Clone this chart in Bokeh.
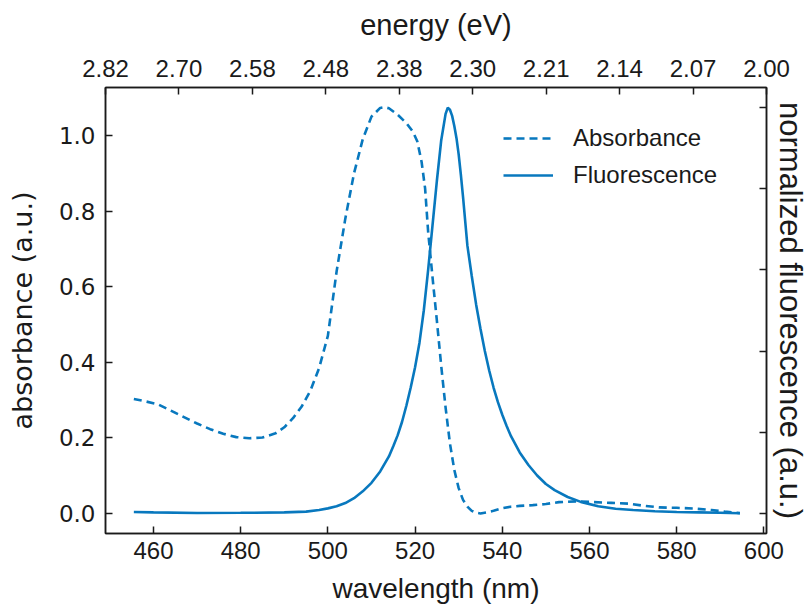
from bokeh.plotting import figure
from bokeh.models import (Range1d, LinearAxis, FixedTicker, Legend, LegendItem,
                          CustomJSTickFormatter, ColumnDataSource)
from bokeh.embed import file_html
from bokeh.resources import INLINE

# ---------------- data ----------------
abs_wavelength = [455.5, 458, 461, 464, 467, 470, 473, 476, 479, 482, 485, 488, 490, 492,
                  494, 496, 498, 500, 502, 504, 506, 508, 510, 512, 513, 514, 516, 518,
                  519.5, 520.5, 521.5, 522.3, 523, 524, 525, 526, 527, 528, 529, 530, 531,
                  532, 533, 534, 535, 536.5, 538, 540, 542, 544, 547, 550, 553, 557, 561,
                  565, 569, 572, 576, 580, 584, 588, 591, 594.5]
absorbance = [0.303, 0.297, 0.289, 0.272, 0.255, 0.238, 0.223, 0.211, 0.202, 0.199, 0.201,
              0.212, 0.228, 0.252, 0.283, 0.325, 0.385, 0.47, 0.64, 0.78, 0.90, 0.99, 1.05,
              1.073, 1.075, 1.072, 1.055, 1.033, 1.01, 0.985, 0.93, 0.86, 0.745, 0.625,
              0.51, 0.39, 0.28, 0.185, 0.115, 0.067, 0.036, 0.018, 0.007, 0.002, 0.0, 0.003,
              0.007, 0.014, 0.018, 0.02, 0.022, 0.025, 0.03, 0.032, 0.03, 0.028, 0.026,
              0.021, 0.016, 0.015, 0.013, 0.009, 0.005, 0.001]

fl_wavelength = [455.5, 460, 470, 480, 490, 495, 498, 500, 502, 504, 506, 508, 510, 512,
                 514, 515, 516, 517, 518, 519, 520, 521, 522, 523, 524, 525, 526, 527,
                 527.5, 528, 528.5, 529, 529.5, 530, 530.5, 531, 532, 533, 534, 535, 536,
                 537, 538, 539, 540, 541, 542, 544, 546, 548, 550, 552, 555, 558, 562, 566,
                 570, 575, 580, 585, 590, 594.5]
fluorescence = [0.003, 0.002, 0.0005, 0.001, 0.002, 0.004, 0.008, 0.012, 0.017, 0.025,
                0.037, 0.054, 0.075, 0.103, 0.140, 0.165, 0.192, 0.225, 0.265, 0.31, 0.36,
                0.42, 0.50, 0.60, 0.71, 0.82, 0.92, 0.985, 1.0, 0.995, 0.98, 0.955, 0.925,
                0.885, 0.835, 0.78, 0.66, 0.585, 0.515, 0.455, 0.40, 0.352, 0.31, 0.274,
                0.243, 0.215, 0.19, 0.15, 0.119, 0.093, 0.072, 0.057, 0.040, 0.028, 0.017,
                0.011, 0.008, 0.005, 0.003, 0.002, 0.001, 0.0]

wl_ticks = [460, 480, 500, 520, 540, 560, 580, 600]
abs_ticks = [0.0, 0.2, 0.4, 0.6, 0.8, 1.0]
fl_ticks = [0.0, 0.2, 0.4, 0.6, 0.8, 1.0]
energy_labels = ["2.82", "2.70", "2.58", "2.48", "2.38", "2.30", "2.21", "2.14", "2.07", "2.00"]

# ---------------- styling ----------------
BLUE = "#0878be"
INK = "#1a1a1a"
SANS = "Liberation Sans"

p = figure(width=810, height=610,
           x_range=Range1d(449.0, 600.6), y_range=Range1d(-0.053, 1.127),
           output_backend="svg", toolbar_location=None,
           min_border_left=105, min_border_right=41, min_border_top=87, min_border_bottom=77)
p.extra_x_ranges = {"top": Range1d(0, len(energy_labels) - 1)}
p.extra_y_ranges = {"right": Range1d(-0.05, 1.05)}

p.background_fill_color = "white"
p.border_fill_color = "white"
p.outline_line_color = INK
p.outline_line_width = 1.5
p.xgrid.visible = False
p.ygrid.visible = False

abs_src = ColumnDataSource(dict(x=abs_wavelength, y=absorbance))
fl_src = ColumnDataSource(dict(x=fl_wavelength, y=fluorescence))

r_abs = p.line("x", "y", source=abs_src, line_color=BLUE, line_width=2.6, line_dash="8 5")
r_fl = p.line("x", "y", source=fl_src, line_color=BLUE, line_width=2.6, y_range_name="right")


def style_axis(ax, font, size):
    ax.axis_line_color = INK
    ax.axis_line_width = 1.5
    ax.major_tick_line_color = INK
    ax.major_tick_line_width = 1.5
    ax.major_tick_in = 7
    ax.major_tick_out = 0
    ax.minor_tick_line_color = None
    ax.major_label_text_font = font
    ax.major_label_text_font_size = size
    ax.major_label_text_color = INK
    ax.axis_label_text_font_style = "normal"
    ax.axis_label_text_color = INK


# bottom axis
xb = p.xaxis[0]
style_axis(xb, SANS, "24px")
xb.ticker = FixedTicker(ticks=wl_ticks)
xb.axis_label = "wavelength (nm)"
xb.axis_label_text_font = SANS
xb.axis_label_text_font_size = "28px"
xb.major_label_standoff = 8
xb.axis_label_standoff = 11

# left axis
yl = p.yaxis[0]
style_axis(yl, "DejaVu Sans", "23px")
yl.ticker = FixedTicker(ticks=abs_ticks)
yl.major_label_overrides = {t: f"{t:.1f}" for t in abs_ticks}
yl.axis_label = "absorbance (a.u.)"
yl.axis_label_text_font = "DejaVu Sans"
yl.axis_label_text_font_size = "27px"
yl.major_label_standoff = 10
yl.axis_label_standoff = 18

# top axis (energy)
xt = LinearAxis(x_range_name="top")
style_axis(xt, SANS, "24px")
xt.ticker = FixedTicker(ticks=list(range(len(energy_labels))))
xt.major_label_overrides = {i: lab for i, lab in enumerate(energy_labels)}
xt.axis_label = "energy (eV)"
xt.axis_label_text_font = SANS
xt.axis_label_text_font_size = "29px"
xt.major_label_standoff = 11
xt.axis_label_standoff = 16
p.add_layout(xt, "above")

# right axis (normalized fluorescence)
yr = LinearAxis(y_range_name="right")
style_axis(yr, SANS, "24px")
yr.ticker = FixedTicker(ticks=fl_ticks)
yr.formatter = CustomJSTickFormatter(code="return ''")
yr.major_label_standoff = 0
yr.axis_label = "normalized fluorescence (a.u.)"
yr.axis_label_text_font = SANS
yr.axis_label_text_font_size = "31px"
yr.axis_label_standoff = 6
p.add_layout(yr, "right")

legend = Legend(items=[LegendItem(label="Absorbance", renderers=[r_abs]),
                       LegendItem(label="Fluorescence", renderers=[r_fl])],
                location=(398, 343))
legend.border_line_color = None
legend.background_fill_alpha = 0
legend.padding = 0
legend.margin = 0
legend.spacing = 7
legend.glyph_width = 50
legend.glyph_height = 30
legend.label_height = 30
legend.label_standoff = 20
legend.label_text_font = SANS
legend.label_text_font_size = "24px"
legend.label_text_color = INK
p.add_layout(legend, "center")

open("out.html", "w").write(file_html(p, INLINE))
